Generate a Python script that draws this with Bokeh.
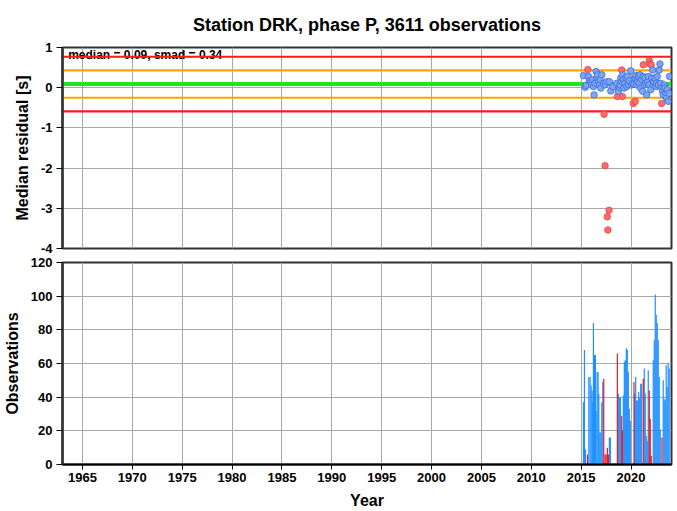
from bokeh.plotting import figure
from bokeh.layouts import column
from bokeh.models import Range1d, FixedTicker
from bokeh.embed import file_html
from bokeh.resources import INLINE
from bokeh.core.properties import value

title_text = "Station DRK, phase P, 3611 observations"
median_val = 0.09
smad_val = 0.34
stat_text = "median = 0.09, smad = 0.34"

# median residual per month (blue = within limits, red = outside)
blue_year = [2015.23, 2015.40, 2015.50, 2015.73, 2015.83, 2015.97, 2016.07, 2016.17, 2016.23, 2016.30,
             2016.40, 2016.50, 2016.57, 2016.63, 2016.73, 2016.83, 2016.90, 2016.97, 2017.07, 2017.23,
             2017.40, 2017.57, 2017.83, 2017.97, 2018.17, 2018.57, 2018.73, 2018.83, 2018.90, 2018.97,
             2019.07, 2019.17, 2019.23, 2019.30, 2019.40, 2019.50, 2019.57, 2019.63, 2019.73, 2019.83,
             2019.97, 2020.07, 2020.17, 2020.30, 2020.40, 2020.50, 2020.57, 2020.67, 2020.73, 2020.83,
             2020.90, 2020.97, 2021.07, 2021.17, 2021.23, 2021.33, 2021.40, 2021.50, 2021.57, 2021.67,
             2021.73, 2021.83, 2021.97, 2022.07, 2022.17, 2022.23, 2022.30, 2022.40, 2022.50, 2022.57,
             2022.63, 2022.73, 2022.83, 2022.90, 2022.97, 2023.07, 2023.17, 2023.23, 2023.33, 2023.40,
             2023.50, 2023.57, 2023.63, 2023.73, 2023.80, 2023.87]
blue_resid = [0.30, 0.01, 0.06, 0.28, 0.17, 0.14, 0.09, 0.20, 0.03, -0.18,
              0.11, 0.40, 0.24, 0.32, 0.15, 0.07, 0.20, -0.01, 0.32, 0.11,
              0.07, 0.15, 0.15, -0.08, 0.03, 0.11, -0.09, 0.01, 0.07, 0.24,
              0.15, 0.32, 0.20, -0.01, 0.11, 0.24, 0.03, 0.28, 0.07, 0.17,
              0.42, 0.07, 0.11, 0.09, 0.24, 0.30, 0.07, 0.15, 0.28, 0.11,
              0.32, -0.01, 0.20, -0.09, 0.28, 0.07, 0.24, 0.11, -0.18, 0.15,
              0.28, 0.07, -0.05, 0.24, 0.44, 0.07, 0.15, 0.24, 0.03, 0.11,
              0.28, 0.07, 0.44, 0.59, 0.11, -0.01, -0.09, -0.18, 0.07, -0.01,
              -0.14, -0.26, -0.05, -0.34, -0.14, 0.28]
red_year = [2015.67, 2017.30, 2017.40, 2017.62, 2017.68, 2017.80, 2018.63, 2019.07, 2019.13,
            2020.23, 2020.43, 2021.23, 2021.83, 2021.90, 2022.03, 2023.07]
red_resid = [0.45, -0.66, -1.94, -3.21, -3.54, -3.05, -0.22, 0.44, -0.22,
             -0.39, -0.34, 0.57, 0.67, 0.59, 0.57, -0.39]

# observations per month
bar_blue_year = [2015.23, 2015.33, 2015.43, 2015.77, 2015.90, 2016.00, 2016.10, 2016.17, 2016.23, 2016.33,
                 2016.43, 2016.50, 2016.60, 2016.70, 2016.77, 2016.87, 2016.97, 2017.07, 2017.17, 2017.83,
                 2017.93, 2018.73, 2018.83, 2018.93, 2019.23, 2019.33, 2019.43, 2019.53, 2019.63, 2019.73,
                 2019.83, 2019.93, 2020.37, 2020.47, 2020.57, 2020.67, 2020.77, 2020.87, 2020.97, 2021.07,
                 2021.33, 2021.43, 2021.53, 2021.63, 2021.73, 2022.23, 2022.33, 2022.43, 2022.53, 2022.63,
                 2022.73, 2022.83, 2022.93, 2023.23, 2023.33, 2023.43, 2023.53, 2023.63, 2023.73, 2023.83]
bar_blue_count = [37, 68, 9, 52, 52, 47, 44, 37, 84, 65,
                  65, 32, 55, 55, 42, 19, 19, 37, 49, 16,
                  16, 42, 40, 40, 41, 61, 62, 69, 68, 55,
                  33, 26, 42, 52, 38, 38, 43, 40, 48, 48,
                  57, 42, 17, 14, 56, 62, 74, 101, 89, 84,
                  74, 52, 21, 50, 39, 38, 59, 46, 60, 57]
bar_red_year = [2015.63, 2017.27, 2017.40, 2017.50, 2017.63, 2017.73, 2018.63, 2019.07, 2019.13,
                2020.30, 2021.23, 2021.83, 2021.93, 2022.03, 2023.10]
bar_red_count = [6, 51, 6, 6, 10, 6, 66, 29, 20, 49, 51, 44, 27, 5, 16]

year_ticks = [1965, 1970, 1975, 1980, 1985, 1990, 1995, 2000, 2005, 2010, 2015, 2020]
resid_ticks = [-4, -3, -2, -1, 0, 1]
resid_tick_labels = ["-4", "-3", "-2", "-1", "0", "1"]
count_ticks = [0, 20, 40, 60, 80, 100, 120]

FONT = "Liberation Sans"
GRID = "#a8a8a8"
FRAME = "#333333"


def style_left_axis(ax, ticks, label):
    ax.ticker = FixedTicker(ticks=ticks)
    ax.axis_line_color = FRAME
    ax.axis_line_width = 2.5
    ax.major_tick_out = 6
    ax.major_tick_in = 0
    ax.major_tick_line_color = "black"
    ax.major_tick_line_width = 1
    ax.minor_tick_line_color = None
    ax.major_label_text_font = FONT
    ax.major_label_text_font_style = "bold"
    ax.major_label_text_color = "black"
    ax.major_label_text_font_size = "13px"
    ax.major_label_standoff = 4
    ax.axis_label = label
    ax.axis_label_text_font = FONT
    ax.axis_label_text_font_size = "16px"
    ax.axis_label_text_font_style = "bold"
    ax.axis_label_text_color = "black"
    ax.axis_label_standoff = 7


def style_panel(p):
    p.outline_line_color = FRAME
    p.outline_line_width = 2
    p.background_fill_color = "white"
    p.border_fill_color = "white"
    p.grid.grid_line_color = GRID
    p.grid.grid_line_width = 1


x_lo, x_hi = 1963.0, 2024.06

# ---------- top panel ----------
p1 = figure(width=677, height=255, x_range=Range1d(x_lo, x_hi), y_range=Range1d(-4, 1),
            output_backend="svg", toolbar_location=None, title=title_text,
            x_axis_location=None,
            min_border_left=59, min_border_right=6, min_border_top=46, min_border_bottom=7)
p1.title.text_font = FONT
p1.title.text_font_size = "18px"
p1.title.text_font_style = "bold"
p1.title.align = "center"
p1.title.text_color = "black"
p1.title.standoff = 25

style_panel(p1)
style_left_axis(p1.yaxis[0], resid_ticks, "Median residual [s]")
p1.yaxis[0].major_label_overrides = dict(zip(resid_ticks, resid_tick_labels))
p1.xgrid.ticker = FixedTicker(ticks=year_ticks)
p1.ygrid.ticker = FixedTicker(ticks=resid_ticks)

p1.text(x=[x_lo + 0.57], y=[0.81], text=[stat_text], text_font=value(FONT),
        text_font_size="12px", text_font_style="bold", text_baseline="middle",
        text_align="left", text_color="black")

lim_hi2 = median_val + 2 * smad_val
lim_lo2 = median_val - 2 * smad_val
lim_hi1 = median_val + smad_val
lim_lo1 = median_val - smad_val
for yv, col, lw in [(lim_hi2, "#ff1a1a", 2.2), (lim_lo2, "#ff1a1a", 2.2),
                    (lim_hi1, "#ffa500", 2.2), (lim_lo1, "#ffa500", 2.2),
                    (median_val, "#1ee61e", 4)]:
    p1.line(x=[x_lo, x_hi], y=[yv, yv], line_color=col, line_width=lw)

p1.scatter(x=red_year, y=red_resid, size=6.5, fill_color="#ff6b6b",
           line_color="#e04545", line_width=0.8)
p1.scatter(x=blue_year, y=blue_resid, size=6.5, fill_color="#79a6f6",
           line_color="#3c6ad8", line_width=0.8)

# ---------- bottom panel ----------
p2 = figure(width=677, height=256, x_range=p1.x_range, y_range=Range1d(0, 120),
            output_backend="svg", toolbar_location=None,
            min_border_left=59, min_border_right=6, min_border_top=7, min_border_bottom=47)
style_panel(p2)
style_left_axis(p2.yaxis[0], count_ticks, "Observations")
xa = p2.xaxis[0]
xa.ticker = FixedTicker(ticks=year_ticks)
xa.axis_line_color = "black"
xa.axis_line_width = 2
xa.major_tick_out = 5
xa.major_tick_in = 0
xa.major_tick_line_color = "black"
xa.minor_tick_line_color = None
xa.major_label_text_font = FONT
xa.major_label_text_font_style = "bold"
xa.major_label_text_color = "black"
xa.major_label_text_font_size = "13px"
xa.major_label_standoff = 3
xa.axis_label = "Year"
xa.axis_label_text_font = FONT
xa.axis_label_text_font_size = "16px"
xa.axis_label_text_font_style = "bold"
xa.axis_label_text_color = "black"
xa.axis_label_standoff = 7
p2.xgrid.ticker = FixedTicker(ticks=year_ticks)
p2.ygrid.ticker = FixedTicker(ticks=count_ticks)

p2.vbar(x=bar_blue_year, top=bar_blue_count, bottom=0, width=0.12,
        fill_color="#1e90ff", line_color=None)
p2.vbar(x=bar_red_year, top=bar_red_count, bottom=0, width=0.11,
        fill_color="#ff0000", line_color=None)

layout = column(p1, p2)
open("out.html", "w").write(file_html(layout, INLINE))
